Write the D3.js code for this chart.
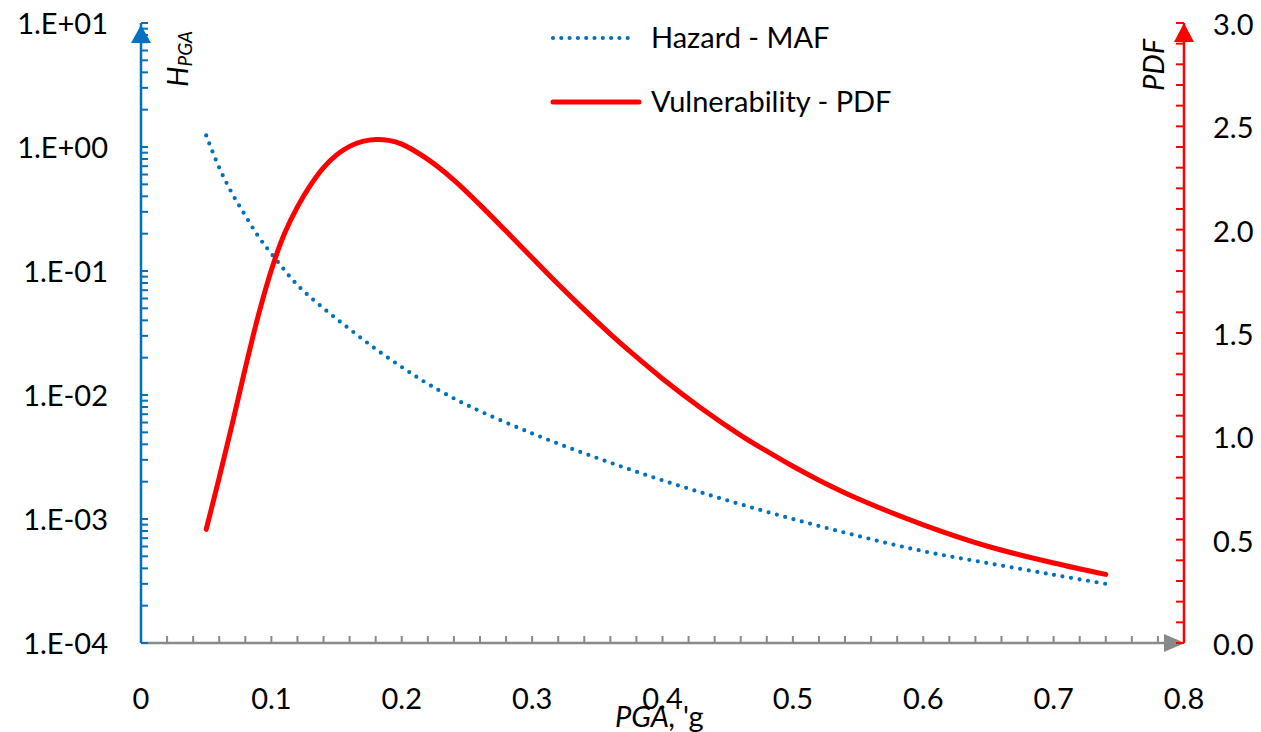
<!DOCTYPE html>
<html>
<head>
<meta charset="utf-8">
<script src="https://cdn.jsdelivr.net/npm/d3@7"></script>
<style>
  html, body { margin: 0; padding: 0; background: #fff; }
  svg { display: block; }
  text { font-family: Lato, "Open Sans", "Liberation Sans", sans-serif; fill: #000; }
</style>
</head>
<body>
<svg id="chart" width="1261" height="732"></svg>
<script>
// Peak ground acceleration (g) at which the hazard curve is sampled
const hazardPGA = [0.05, 0.06, 0.07, 0.08, 0.09, 0.10, 0.12, 0.14, 0.16, 0.18, 0.20, 0.22,
                   0.25, 0.30, 0.35, 0.40, 0.45, 0.50, 0.55, 0.60, 0.65, 0.70, 0.74];
// Mean annual frequency of exceedance
const hazardMAF = [1.24, 0.68, 0.42, 0.28, 0.19, 0.138, 0.077, 0.050, 0.034, 0.0235, 0.0168, 0.0123,
                   0.0083, 0.0049, 0.0031, 0.00205, 0.00141, 0.00100, 0.00073, 0.00055, 0.00044, 0.000355, 0.00030];

// PGA (g) at which the fragility density is sampled
const vulnPGA = [0.05, 0.06, 0.07, 0.08, 0.09, 0.10, 0.11, 0.12, 0.13, 0.14, 0.15, 0.16, 0.17, 0.18,
                 0.19, 0.20, 0.22, 0.24, 0.26, 0.28, 0.30, 0.32, 0.34, 0.36, 0.38, 0.40, 0.43,
                 0.46, 0.48, 0.50, 0.52, 0.55, 0.60, 0.65, 0.70, 0.74];
// Probability density of the vulnerability
const vulnPDF = [0.55, 0.80, 1.06, 1.33, 1.585, 1.805, 1.98, 2.11, 2.215, 2.30, 2.362, 2.403, 2.427, 2.436,
                 2.432, 2.414, 2.34, 2.24, 2.12, 1.993, 1.864, 1.736, 1.613, 1.495, 1.384, 1.279, 1.135,
                 1.005, 0.928, 0.855, 0.788, 0.698, 0.572, 0.467, 0.387, 0.332];

const xTickLabels = ["0", "0.1", "0.2", "0.3", "0.4", "0.5", "0.6", "0.7", "0.8"];
const leftTickLabels = ["1.E-04", "1.E-03", "1.E-02", "1.E-01", "1.E+00", "1.E+01"];
const rightTickLabels = ["0.0", "0.5", "1.0", "1.5", "2.0", "2.5", "3.0"];

const seriesNames = ["Hazard - MAF", "Vulnerability - PDF"];

const BLUE = "#0070C0", RED = "#FF0000", GREY = "#898989";
const FS = 29;

const svg = d3.select("#chart");

const x = d3.scaleLinear().domain([0, 0.8]).range([141, 1184]);
const yL = d3.scaleLog().domain([1e-4, 10]).range([643, 23]);
const yR = d3.scaleLinear().domain([0, 3]).range([643, 23]);

// ---- X axis (grey, arrow at right, minor ticks pointing up) ----
const xAxis = svg.append("g");
xAxis.append("line")
  .attr("x1", x(0)).attr("x2", x(0.8) - 4)
  .attr("y1", yL(1e-4)).attr("y2", yL(1e-4))
  .attr("stroke", GREY).attr("stroke-width", 2.5);
const xMinor = d3.range(1, 40).map(i => i * 0.02);
xAxis.selectAll("line.tick").data(xMinor).join("line")
  .attr("class", "tick")
  .attr("x1", d => x(d)).attr("x2", d => x(d))
  .attr("y1", yL(1e-4)).attr("y2", yL(1e-4) - 7)
  .attr("stroke", GREY).attr("stroke-width", 2);
xAxis.append("path")
  .attr("d", `M${x(0.8) + 1},${yL(1e-4)} l-21,-9 l0,18 z`)
  .attr("fill", GREY);
xAxis.selectAll("text").data(xTickLabels).join("text")
  .attr("x", (d, i) => x(i * 0.1))
  .attr("y", 709)
  .attr("text-anchor", "middle")
  .attr("font-size", FS)
  .text(d => d);

// ---- Left log axis (blue, arrow at top, ticks pointing right) ----
const lAxis = svg.append("g");
lAxis.append("line")
  .attr("x1", x(0)).attr("x2", x(0))
  .attr("y1", yL(1e-4)).attr("y2", yL(10))
  .attr("stroke", BLUE).attr("stroke-width", 2.5);
const logTicks = [];
for (let e = -4; e <= 1; e++) {
  logTicks.push(Math.pow(10, e));
  if (e < 1) for (let m = 2; m <= 9; m++) logTicks.push(m * Math.pow(10, e));
}
lAxis.selectAll("line.tick").data(logTicks).join("line")
  .attr("class", "tick")
  .attr("x1", x(0)).attr("x2", x(0) + 7)
  .attr("y1", d => yL(d)).attr("y2", d => yL(d))
  .attr("stroke", BLUE).attr("stroke-width", 2);
lAxis.append("path")
  .attr("d", `M${x(0)},${yL(10) + 2} l-10,18 l20,0 z`)
  .attr("fill", BLUE);
lAxis.selectAll("text").data(leftTickLabels).join("text")
  .attr("x", 108)
  .attr("y", (d, i) => yL(Math.pow(10, i - 4)) + 11)
  .attr("text-anchor", "end")
  .attr("font-size", FS)
  .text(d => d);

// H_PGA axis title
const hTitle = svg.append("text")
  .attr("transform", "translate(188,87) rotate(-90)")
  .attr("font-size", FS)
  .attr("font-style", "italic");
hTitle.append("tspan").text("H");
hTitle.append("tspan").attr("font-size", 19).attr("dy", 4).text("PGA");

// ---- Right linear axis (red, arrow at top, ticks pointing left) ----
const rAxis = svg.append("g");
rAxis.append("line")
  .attr("x1", x(0.8)).attr("x2", x(0.8))
  .attr("y1", yR(0)).attr("y2", yR(3))
  .attr("stroke", RED).attr("stroke-width", 2.5);
const rTicks = d3.range(0, 31).map(i => i / 10);
rAxis.selectAll("line.tick").data(rTicks).join("line")
  .attr("class", "tick")
  .attr("x1", x(0.8)).attr("x2", x(0.8) - 8)
  .attr("y1", d => yR(d)).attr("y2", d => yR(d))
  .attr("stroke", RED).attr("stroke-width", 2);
rAxis.append("path")
  .attr("d", `M${x(0.8)},${yR(3)} l-10,19 l20,0 z`)
  .attr("fill", RED);
rAxis.selectAll("text").data(rightTickLabels).join("text")
  .attr("x", 1213)
  .attr("y", (d, i) => yR(i * 0.5) + 12)
  .attr("text-anchor", "start")
  .attr("font-size", FS)
  .text(d => d);

svg.append("text")
  .attr("transform", "translate(1164,91) rotate(-90)")
  .attr("font-size", FS)
  .attr("font-style", "italic")
  .text("PDF");

// X axis title
const xTitle = svg.append("text")
  .attr("x", 615).attr("y", 727)
  .attr("font-size", FS);
xTitle.append("tspan").attr("font-style", "italic").text("PGA,");
xTitle.append("tspan").text(" 'g");

// ---- Series ----
const hazardLine = d3.line()
  .x((d, i) => x(hazardPGA[i]))
  .y(d => yL(d))
  .curve(d3.curveCatmullRom.alpha(0.5));
svg.append("path")
  .attr("d", hazardLine(hazardMAF))
  .attr("fill", "none")
  .attr("stroke", BLUE)
  .attr("stroke-width", 4.2)
  .attr("stroke-linecap", "round")
  .attr("stroke-dasharray", "0 8.6");

const vulnLine = d3.line()
  .x((d, i) => x(vulnPGA[i]))
  .y(d => yR(d))
  .curve(d3.curveCatmullRom.alpha(0.5));
svg.append("path")
  .attr("d", vulnLine(vulnPDF))
  .attr("fill", "none")
  .attr("stroke", RED)
  .attr("stroke-width", 5)
  .attr("stroke-linecap", "round")
  .attr("stroke-linejoin", "round");

// ---- Legend ----
const legend = svg.append("g");
const legendRows = [
  { name: seriesNames[0], y: 38, color: BLUE, width: 4.2, dash: "0 8.3" },
  { name: seriesNames[1], y: 102, color: RED, width: 5, dash: null }
];
legendRows.forEach(r => {
  legend.append("line")
    .attr("x1", 553).attr("x2", r.dash ? 636 : 639)
    .attr("y1", r.y).attr("y2", r.y)
    .attr("stroke", r.color)
    .attr("stroke-width", r.width)
    .attr("stroke-linecap", "round")
    .attr("stroke-dasharray", r.dash);
  legend.append("text")
    .attr("x", 651).attr("y", r.y + 10)
    .attr("font-size", FS)
    .text(r.name);
});
</script>
</body>
</html>
